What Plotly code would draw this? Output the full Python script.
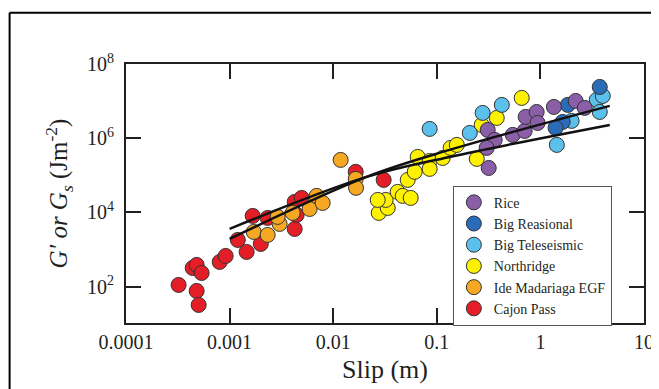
import plotly.graph_objects as go

# ---- data ----
cajon_x = [3.22e-4, 4.40e-4, 4.81e-4, 5.37e-4, 4.81e-4, 5.03e-4, 8.02e-4, 9.16e-4, 1.20e-3,
           1.46e-3, 1.67e-3, 2.0e-3, 2.33e-3, 4.25e-3, 4.44e-3, 4.25e-3, 4.96e-3, 0.0165, 0.0307]
cajon_y = [111, 319, 385, 234, 76.6, 32.1, 463, 672, 1815,
           861, 8050, 1416, 7110, 3590, 8570, 19200, 24600, 1.24e5, 7.52e4]

ide_x = [1.71e-3, 2.33e-3, 3.04e-3, 2.91e-3, 4.06e-3, 5.93e-3, 6.92e-3, 7.91e-3, 0.0118, 0.0165, 0.0166]
ide_y = [2980, 2475, 4900, 7570, 9700, 12400, 27900, 18000, 2.6e5, 8.0e4, 4.6e4]

north_x = [0.0275, 0.0336, 0.0321, 0.0269, 0.0419, 0.0469, 0.056, 0.0524, 0.0612, 0.0654,
           0.0853, 0.0853, 0.114, 0.136, 0.156, 0.243, 0.271, 0.379, 0.660]
north_y = [9700, 13200, 21700, 21700, 35700, 27900, 24600, 75200, 1.24e5, 3.13e5,
           2.44e5, 1.49e5, 2.94e5, 5.48e5, 6.6e5, 2.77e5, 2.28e6, 3.52e6, 1.22e7]

tele_x = [0.0853, 0.208, 0.277, 0.424, 1.44, 2.0, 3.5, 3.74, 4.0]
tele_y = [1.78e6, 1.39e6, 4.81e6, 7.9e6, 6.6e5, 2.93e6, 1.08e7, 5.1e6, 1.38e7]

reas_x = [3.74, 1.84, 1.64, 1.40]
reas_y = [2.41e7, 7.9e6, 2.75e6, 1.9e6]

rice_x = [0.310, 0.362, 0.303, 0.317, 0.541, 0.705, 0.721, 0.92, 0.94, 1.35, 2.19, 2.68]
rice_y = [1.67e6, 9.0e5, 5.48e5, 1.58e5, 1.23e6, 1.57e6, 3.75e6, 5.1e6, 2.58e6, 6.98e6, 1.01e7, 6.56e6]

fit1_x = [0.001, 0.021, 0.133, 4.67]
fit1_y = [3590, 9.06e4, 3.13e5, 2.28e6]
fit2_x = [0.001, 0.021, 0.133, 4.67]
fit2_y = [1930, 9.06e4, 4.84e5, 7.43e6]

x_tickvals = [0.0001, 0.001, 0.01, 0.1, 1, 10]
x_ticktext = ["0.0001", "0.001", "0.01", "0.1", "1", "10"]
y_tickvals = [1e2, 1e4, 1e6, 1e8]
y_ticktext = ["10<sup>2</sup>", "10<sup>4</sup>", "10<sup>6</sup>", "10<sup>8</sup>"]

series = [
    ("Cajon Pass", cajon_x, cajon_y, "#E41E26"),
    ("Ide Madariaga EGF", ide_x, ide_y, "#F7A823"),
    ("Northridge", north_x, north_y, "#FFF200"),
    ("Big Teleseismic", tele_x, tele_y, "#5BC0EB"),
    ("Big Reasional", reas_x, reas_y, "#2B6CB8"),
    ("Rice", rice_x, rice_y, "#8B5FA8"),
]

FONT = "Liberation Serif"
INK = "#231F20"

fig = go.Figure()
for name, xs, ys, col in series:
    fig.add_trace(go.Scatter(
        x=xs, y=ys, mode="markers", name=name,
        marker=dict(size=15, color=col, line=dict(color="#333333", width=1)),
    ))

for fx, fy in [(fit1_x, fit1_y), (fit2_x, fit2_y)]:
    fig.add_trace(go.Scatter(
        x=fx, y=fy, mode="lines", showlegend=False,
        line=dict(color="#111111", width=2.5, shape="spline", smoothing=1.0),
    ))

axis_common = dict(
    showline=True, linecolor=INK, linewidth=2, mirror="allticks",
    ticks="inside", ticklen=15, tickwidth=2, tickcolor=INK,
    showgrid=False, zeroline=False,
    tickfont=dict(family=FONT, size=20, color=INK),
)

fig.update_xaxes(type="log", range=[-4, 1], tickvals=x_tickvals, ticktext=x_ticktext,
                 **axis_common)
fig.update_yaxes(type="log", range=[1.02, 8], tickvals=y_tickvals, ticktext=y_ticktext,
                 ticklabelstandoff=6,
                 title=dict(text="<i>G′ or G<sub>s</sub></i> (Jm<sup>-2</sup>)",
                            font=dict(family=FONT, size=25, color=INK), standoff=12),
                 **axis_common)

fig.update_layout(
    width=651, height=381,
    margin=dict(l=118, r=15, t=56, b=66, autoexpand=False),
    paper_bgcolor="white", plot_bgcolor="white",
    font=dict(family=FONT, color=INK),
    legend=dict(x=0.631, y=0.53, xanchor="left", yanchor="top",
                traceorder="reversed", bgcolor="white",
                bordercolor="#555555", borderwidth=1,
                font=dict(family=FONT, size=14, color=INK),
                itemsizing="trace", tracegroupgap=0),
    annotations=[
        dict(text="Slip (m)", xref="paper", yref="paper", x=0.5, y=-0.181,
             xanchor="center", yanchor="middle", showarrow=False,
             font=dict(family=FONT, size=26, color=INK)),
    ],
    shapes=[
        dict(type="line", xref="paper", yref="paper", x0=-0.2247, x1=1.1, y0=1.1974, y1=1.1974,
             line=dict(color="black", width=2)),
        dict(type="line", xref="paper", yref="paper", x0=-0.2247, x1=-0.2247, y0=1.1974, y1=-0.3,
             line=dict(color="black", width=2)),
    ],
)

fig.write_html("out.html")
